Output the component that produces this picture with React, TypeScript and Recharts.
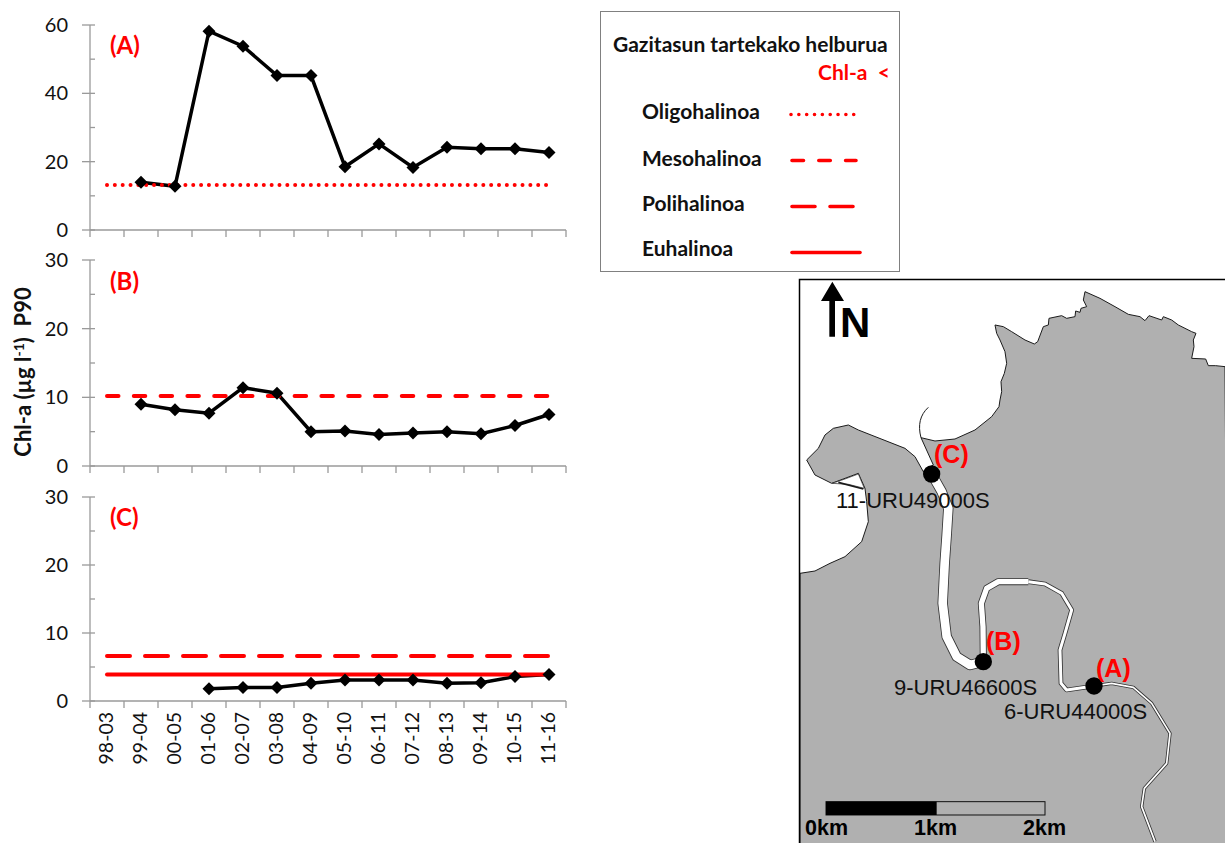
import { LineChart, Line, XAxis, YAxis } from "recharts";

const periods = ["98-03", "99-04", "00-05", "01-06", "02-07", "03-08", "04-09", "05-10", "06-11", "07-12", "08-13", "09-14", "10-15", "11-16"];

const valuesA = [null, 14, 12.8, 58.2, 53.8, 45.2, 45.2, 18.5, 25.2, 18.3, 24.2, 23.8, 23.8, 22.7];
const valuesB = [null, 9, 8.2, 7.7, 11.4, 10.6, 5, 5.1, 4.6, 4.8, 5, 4.7, 5.9, 7.5];
const valuesC = [null, null, null, 1.8, 2, 2, 2.6, 3.1, 3.1, 3.1, 2.6, 2.7, 3.6, 3.9];

const oligo = 13.2;
const meso = 10.2;
const poli = 6.6;
const eu = 3.9;

const ticksA = [0, 10, 20, 30, 40, 50, 60];
const ticksBC = [0, 5, 10, 15, 20, 25, 30];

const salinityLabels = ["Oligohalinoa", "Mesohalinoa", "Polihalinoa", "Euhalinoa"];
const stationLabels = ["6-URU44000S", "9-URU46600S", "11-URU49000S"];

const RED = "#ff0000";
const AXIS = "#9a9a9a";
const FONT = "Lato, sans-serif";
const DOT_DASH = "0.01 7.83";
const MESO_DASH = "11.5 15.3";
const POLI_DASH = "23 15";

const plotW = 476;
const band = plotW / periods.length;

const makeRows = (values: (number | null)[], limits: Record<string, number>) =>
  periods.map((period, i) => ({ period, value: values[i], ...limits }));

const Diamond = ({ cx, cy, value }: any) =>
  value == null ? <g /> : <path d={`M${cx},${cy - 6.5}L${cx + 6.5},${cy}L${cx},${cy + 6.5}L${cx - 6.5},${cy}Z`} fill="#000" />;

const YTick = ({ x, y, payload, major }: any) => {
  const isMajor = payload.value % major === 0;
  return (
    <g>
      <line x1={isMajor ? x - 8 : x} x2={x + 5} y1={y} y2={y} stroke={AXIS} strokeWidth={1.3} />
      {isMajor && (
        <text x={x - 22} y={y + 7} textAnchor="end" fontSize={20} fontFamily={FONT} fill="#111">
          {payload.value}
        </text>
      )}
    </g>
  );
};

const XTick = ({ x, y, payload, index, showLabel }: any) => (
  <g>
    <line x1={x - band / 2} x2={x - band / 2} y1={y} y2={y + 7} stroke={AXIS} strokeWidth={1.3} />
    {index === periods.length - 1 && <line x1={x + band / 2} x2={x + band / 2} y1={y} y2={y + 7} stroke={AXIS} strokeWidth={1.3} />}
    {showLabel && (
      <text
        transform={`translate(${x + 6},${y + 11}) rotate(-90)`}
        textAnchor="end"
        fontSize={19.5}
        fontFamily={FONT}
        fill="#111"
      >
        {payload.value}
      </text>
    )}
  </g>
);

function Panel({ top, plotH, axisH, rows, ticks, domainMax, major, showLabel, children }: any) {
  return (
    <div style={{ position: "absolute", left: 0, top: top - 15 }}>
      <LineChart width={600} height={15 + plotH + axisH} data={rows} margin={{ top: 15, right: 34, bottom: 0, left: 0 }}>
        <XAxis
          dataKey="period"
          padding={{ left: band / 2, right: band / 2 }}
          interval={0}
          height={axisH}
          tickSize={0}
          tickMargin={0}
          tickLine={false}
          axisLine={{ stroke: AXIS, strokeWidth: 1.3 }}
          tick={<XTick showLabel={showLabel} />}
        />
        <YAxis
          width={90}
          domain={[0, domainMax]}
          ticks={ticks}
          interval={0}
          tickSize={0}
          tickMargin={0}
          tickLine={false}
          axisLine={{ stroke: AXIS, strokeWidth: 1.3 }}
          tick={<YTick major={major} />}
        />
        <Line dataKey="value" stroke="#000" strokeWidth={3.5} dot={<Diamond />} activeDot={false} isAnimationActive={false} />
        {children}
      </LineChart>
    </div>
  );
}

const landPath =
  "M378,488 L420,498 480,492 540,465 590,425 612,395 615,375 620,350 618,320 628,295 635,265 630,230 615,195 605,175 600,150 625,155 650,170 690,195 718,207 728,200 745,155 760,150 762,130 800,122 815,130 840,125 842,108 855,112 858,100 875,95 865,75 870,50 915,70 960,95 1000,118 1035,125 1050,137 1062,122 1100,135 1105,125 1130,135 1150,150 1190,170 1203,175 1195,195 1197,215 1190,250 1232,252 1240,272 1262,272 1290,275 L1300,1710 L15,1710 L15,895 L60,888 105,865 150,845 200,800 220,740 215,680 210,640 190,595 150,610 110,625 60,600 35,555 70,520 90,480 115,460 160,450 190,465 330,520 360,545 385,590 415,570 Z";
const riverLower = "M410,597 L440,650 460,700 455,780 449,865 443,985 455,1085 485,1145 525,1170 565,1160";
const riverBend = "M565,1160 L564,1055 559,985 575,940 610,920 700,920";
const riverMiddle = "M700,920 L750,927 800,955 830,1005 810,1075 795,1125 798,1225 815,1245 897,1233";
const riverUpper = "M897,1233 L950,1225 1015,1237 1070,1285 1125,1375 1115,1465 1048,1540 1040,1595 1080,1700";

function MapInset() {
  return (
    <g transform="translate(795,275) scale(0.33333)">
      <path d={landPath} fill="#b0b0b0" stroke="#1a1a1a" strokeWidth={3} strokeLinejoin="round" />
      <path d="M378,488 C368,450 375,420 400,397" fill="none" stroke="#1a1a1a" strokeWidth={3} />
      <path d="M112,625 L150,612 190,597 208,640 160,628 Z" fill="#fff" stroke="#1a1a1a" strokeWidth={2} />
      <path d="M130,622 L205,642" stroke="#1a1a1a" strokeWidth={5} />
      <path d={riverLower} fill="none" stroke="#333" strokeWidth={31} strokeLinejoin="round" />
      <path d={riverBend} fill="none" stroke="#333" strokeWidth={21} strokeLinejoin="round" />
      <path d={riverMiddle} fill="none" stroke="#333" strokeWidth={14} strokeLinejoin="round" />
      <path d={riverUpper} fill="none" stroke="#333" strokeWidth={10} strokeLinejoin="round" />
      <path d={riverLower} fill="none" stroke="#fff" strokeWidth={26} strokeLinejoin="round" />
      <path d={riverBend} fill="none" stroke="#fff" strokeWidth={16} strokeLinejoin="round" />
      <path d={riverMiddle} fill="none" stroke="#fff" strokeWidth={9} strokeLinejoin="round" />
      <path d={riverUpper} fill="none" stroke="#fff" strokeWidth={5} strokeLinejoin="round" />
      <circle cx={410} cy={597} r={26} fill="#000" />
      <circle cx={565} cy={1160} r={26} fill="#000" />
      <circle cx={897} cy={1233} r={26} fill="#000" />
      <path d="M78,78 L112,20 L147,78 L120,78 L120,185 L103,185 L103,78 Z" fill="#000" />
      <rect x={93} y={1580} width={657} height={40} fill="none" stroke="#111" strokeWidth={3} />
      <rect x={93} y={1580} width={332} height={40} fill="#000" />
    </g>
  );
}

function Overlay() {
  const mapText = { fontFamily: "'Liberation Sans', Arial, sans-serif" };
  return (
    <svg width={1225} height={843} style={{ position: "absolute", left: 0, top: 0, pointerEvents: "none" }}>
      <g fontFamily={FONT} fontWeight={700} fontSize={24} fill={RED}>
        <text x={110} y={54}>(A)</text>
        <text x={110} y={290}>(B)</text>
        <text x={110} y={526}>(C)</text>
      </g>
      <text
        transform="translate(31,372) rotate(-90)"
        textAnchor="middle"
        fontFamily={FONT}
        fontWeight={700}
        fontSize={22}
        fill="#111"
        xmlSpace="preserve"
      >
        Chl-a (µg l<tspan dy={-7} fontSize={14}>-1</tspan><tspan dy={7}>)  P90</tspan>
      </text>

      <rect x={600.5} y={11.5} width={299} height={260} fill="#fff" stroke="#808080" />
      <g fontFamily={FONT} fontWeight={700} fontSize={21} fill="#111">
        <text x={613} y={52}>Gazitasun tartekako helburua</text>
        <text x={818} y={80} fill={RED} xmlSpace="preserve">Chl-a  &lt;</text>
        <text x={642} y={119}>{salinityLabels[0]}</text>
        <text x={642} y={166}>{salinityLabels[1]}</text>
        <text x={642} y={211}>{salinityLabels[2]}</text>
        <text x={642} y={256}>{salinityLabels[3]}</text>
      </g>
      <g stroke={RED} strokeWidth={3.6} strokeLinecap="round">
        <line x1={791} x2={860} y1={114.5} y2={114.5} strokeDasharray={DOT_DASH} />
        <line x1={792} x2={856} y1={160.5} y2={160.5} strokeDasharray={MESO_DASH} />
        <line x1={792} x2={860} y1={206.5} y2={206.5} strokeDasharray={POLI_DASH} />
        <line x1={792} x2={860} y1={252.5} y2={252.5} />
      </g>

      <MapInset />
      <path d="M799.5,843 V279.5 H1225" fill="none" stroke="#000" strokeWidth={1.5} />
      <g {...mapText} fontSize={42} fontWeight={700} fill="#000">
        <text x={840} y={337}>N</text>
      </g>
      <g {...mapText} fontSize={25} fontWeight={700} fill={RED}>
        <text x={934} y={463}>(C)</text>
        <text x={986} y={650}>(B)</text>
        <text x={1096} y={677}>(A)</text>
      </g>
      <g {...mapText} fontSize={22} fill="#111">
        <text x={836} y={508}>{stationLabels[2]}</text>
        <text x={894} y={695}>{stationLabels[1]}</text>
        <text x={1004} y={719}>{stationLabels[0]}</text>
      </g>
      <g {...mapText} fontSize={21.5} fontWeight={700} fill="#000">
        <text x={805} y={835}>0km</text>
        <text x={914} y={835}>1km</text>
        <text x={1023} y={835}>2km</text>
      </g>
    </svg>
  );
}

const limitLine = { strokeWidth: 4, strokeLinecap: "round", dot: false, activeDot: false, isAnimationActive: false } as any;

export default function App() {
  return (
    <div style={{ position: "absolute", left: 0, top: 0, width: 1225, height: 843, background: "#fff", overflow: "hidden" }}>
      <Overlay />
      <Panel top={25} plotH={205} axisH={12} rows={makeRows(valuesA, { oligo })} ticks={ticksA} domainMax={60} major={20}>
        <Line dataKey="oligo" stroke={RED} strokeDasharray={DOT_DASH} {...limitLine} />
      </Panel>
      <Panel top={260} plotH={206} axisH={12} rows={makeRows(valuesB, { meso })} ticks={ticksBC} domainMax={30} major={10}>
        <Line dataKey="meso" stroke={RED} strokeDasharray={MESO_DASH} {...limitLine} />
      </Panel>
      <Panel top={497} plotH={204} axisH={90} rows={makeRows(valuesC, { poli, eu })} ticks={ticksBC} domainMax={30} major={10} showLabel>
        <Line dataKey="poli" stroke={RED} strokeDasharray={POLI_DASH} {...limitLine} />
        <Line dataKey="eu" stroke={RED} {...limitLine} />
      </Panel>
    </div>
  );
}
